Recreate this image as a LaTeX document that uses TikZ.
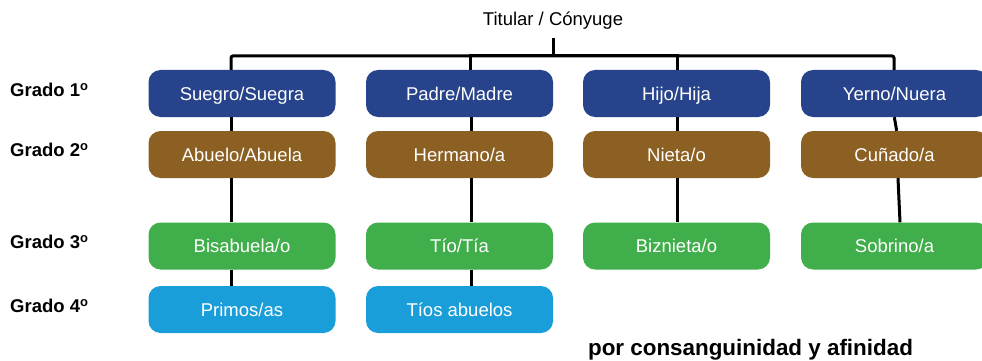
\documentclass[tikz,border=0pt]{standalone}
\usepackage{fontspec}
\setmainfont{Liberation Sans}
\usepackage{tikz}

\definecolor{gradoazul}{RGB}{39,67,139}
\definecolor{gradocafe}{RGB}{139,96,34}
\definecolor{gradoverde}{RGB}{64,174,74}
\definecolor{gradoceleste}{RGB}{26,158,218}

\begin{document}
\begin{tikzpicture}[x=1pt, y=-1pt,
        box/.style={rounded corners=12pt, minimum width=187pt, minimum height=47pt,
            inner sep=0pt, text height=13.3pt, text depth=0pt, text=white,
            font=\fontsize{18.5}{22}\selectfont},
        grado/.style={anchor=base west, inner sep=0pt, font=\bfseries\fontsize{18.5}{22}\selectfont},
        link/.style={line width=3pt}]
        \useasboundingbox (0,0) rectangle (982,361);

        \node[anchor=south, inner sep=8pt, font=\fontsize{18.5}{22}\selectfont] (0) at (553,38) {Titular / Cónyuge};
        \coordinate (bus) at (553,56);

        \node[box, fill=gradoazul] (11) at (242,93.5) {Suegro/Suegra};
        \node[box, fill=gradoazul] (12) at (459.5,93.5) {Padre/Madre};
        \node[box, fill=gradoazul] (13) at (676.5,93.5) {Hijo/Hija};
        \node[box, fill=gradoazul] (14) at (894.5,93.5) {Yerno/Nuera};

        \node[box, fill=gradocafe] (21) at (242,154.5) {Abuelo/Abuela};
        \node[box, fill=gradocafe] (22) at (459.5,154.5) {Hermano/a};
        \node[box, fill=gradocafe] (23) at (676.5,154.5) {Nieta/o};
        \node[box, fill=gradocafe] (24) at (894.5,154.5) {Cuñado/a};

        \node[box, fill=gradoverde] (31) at (242,246) {Bisabuela/o};
        \node[box, fill=gradoverde] (32) at (459.5,246) {Tío/Tía};
        \node[box, fill=gradoverde] (33) at (676.5,246) {Biznieta/o};
        \node[box, fill=gradoverde] (34) at (894.5,246) {Sobrino/a};

        \node[box, fill=gradoceleste] (41) at (242,309.5) {Primos/as};
        \node[box, fill=gradoceleste] (42) at (459.5,309.5) {Tíos abuelos};

        \node[grado] (g1) at (10,96.7) {Grado 1\textsuperscript{o}};
        \node[grado] (g2) at (10,156.7) {Grado 2\textsuperscript{o}};
        \node[grado] (g3) at (10,248.7) {Grado 3\textsuperscript{o}};
        \node[grado] (g4) at (10,312.7) {Grado 4\textsuperscript{o}};

        \node[anchor=base, inner sep=0pt, font=\bfseries\fontsize{22.4}{26}\selectfont] (pie) at (750.5,355) {por consanguinidad y afinidad};

        % arbol
        \draw[link] (0) -- (bus);
        \draw[link, rounded corners=2pt] ([xshift=-11pt]11.north) |- (bus) -| ([xshift=-0.5pt]14.north);
        \draw[link] ([xshift=10.5pt]12.north) |- (bus);
        \draw[link] ([xshift=0.5pt]13.north) |- (bus);

        \draw[link] ([xshift=-11pt]11.south) -- ([xshift=-11pt]21.north);
        \draw[link] ([xshift=-11pt]21.south) -- ([xshift=-11pt]31.north);
        \draw[link] ([xshift=-11pt]31.south) -- ([xshift=-11pt]41.north);
        \draw[link] ([xshift=11.5pt]12.south) -- ([xshift=11.5pt]22.north);
        \draw[link] ([xshift=11.5pt]22.south) -- ([xshift=11.5pt]32.north);
        \draw[link] ([xshift=11.5pt]32.south) -- ([xshift=11.5pt]42.north);
        \draw[link] ([xshift=0.5pt]13.south) -- ([xshift=0.5pt]23.north);
        \draw[link] ([xshift=0.5pt]23.south) -- ([xshift=0.5pt]33.north);
        \draw[link] ([xshift=-0.2pt]14.south) -- ([xshift=2.2pt]24.north);
        \draw[link] ([xshift=3.5pt]24.south) -- ([xshift=5.5pt]34.north);
    \end{tikzpicture}
\end{document}
